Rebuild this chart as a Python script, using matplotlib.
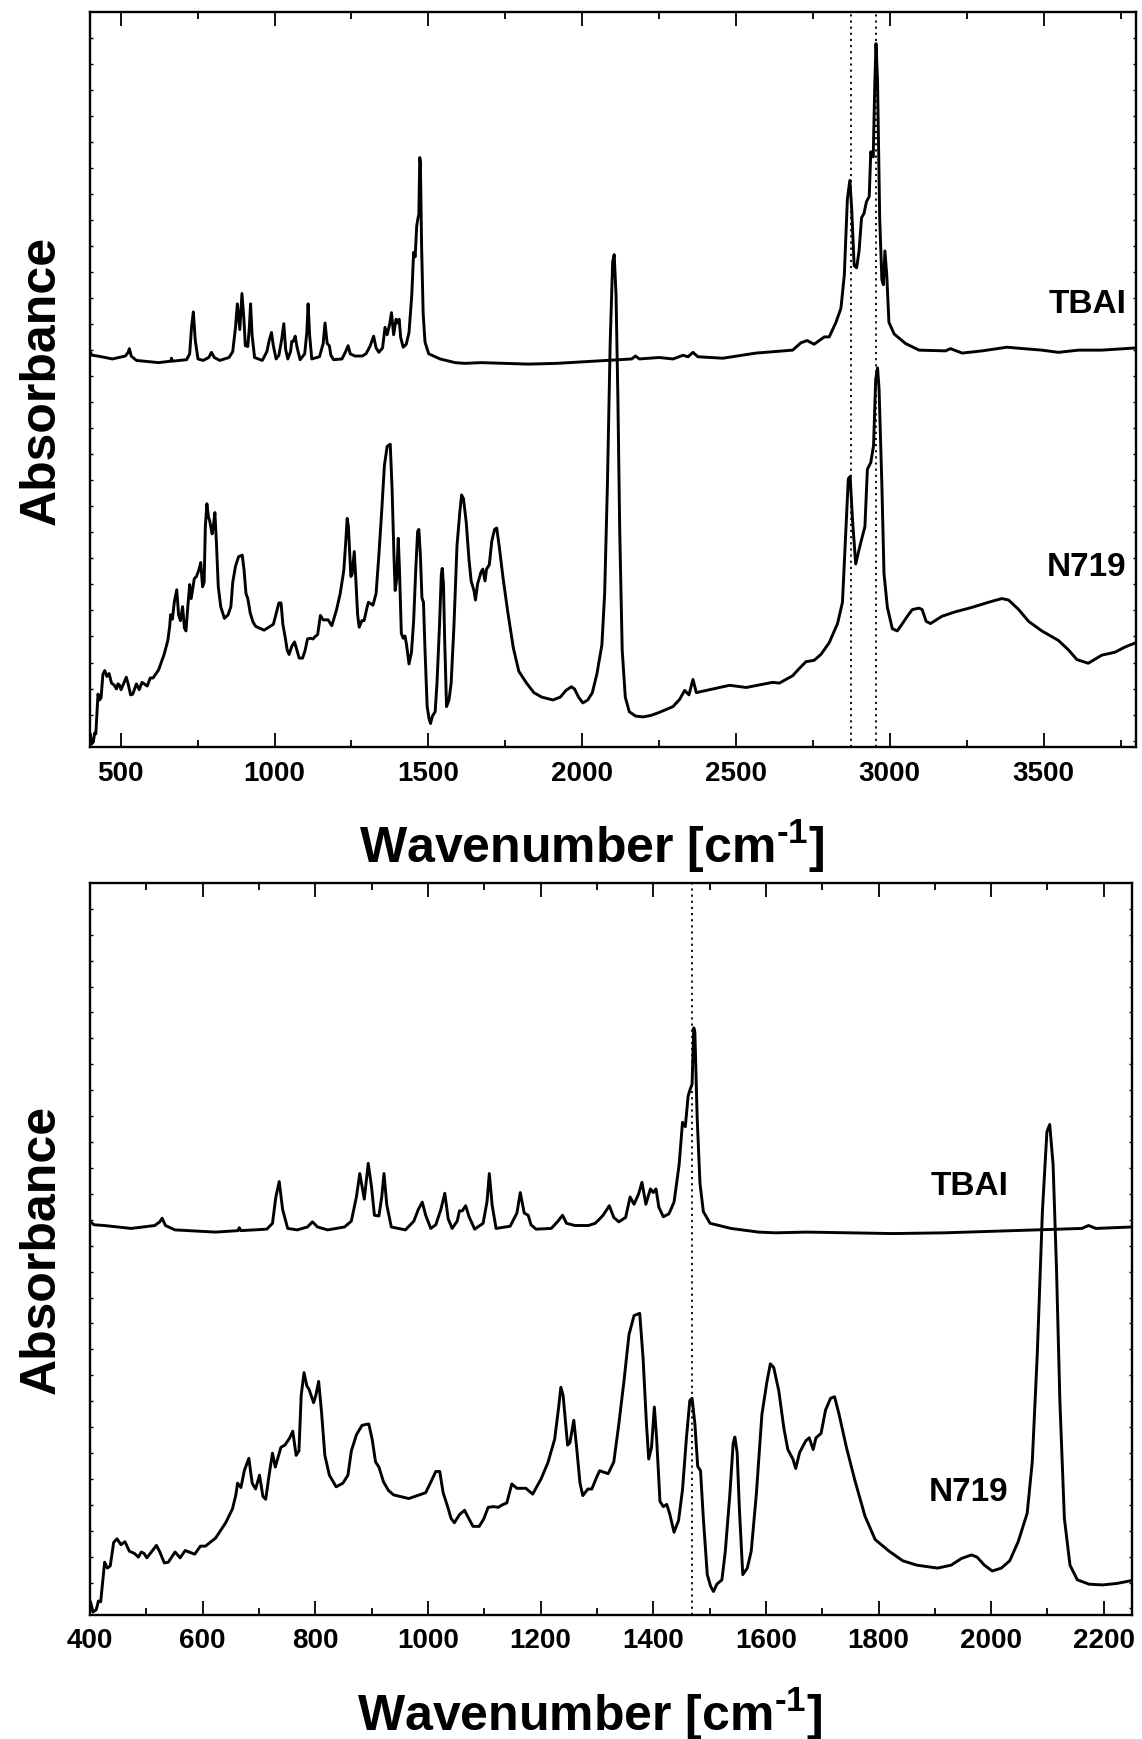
import matplotlib.pyplot as plt
import numpy as np

plt.rcParams['font.family'] = 'Liberation Sans'
plt.rcParams['font.weight'] = 'bold'
plt.rcParams['mathtext.fontset'] = 'custom'
plt.rcParams['mathtext.rm'] = 'Liberation Sans:bold'
plt.rcParams['mathtext.bf'] = 'Liberation Sans:bold'
plt.rcParams['mathtext.it'] = 'Liberation Sans:bold'

# TBAI spectrum (already stacked above N719)
tbai_wn = [398, 407, 425, 473, 515, 524, 528, 534, 551, 623, 663, 665, 668, 714, 724, 730, 736, 742,
           751, 768, 786, 795, 804, 822, 852, 864, 873, 879, 887, 894, 900, 905, 913, 918, 922, 927,
           935, 960, 975, 983, 990, 996, 1005, 1014, 1023, 1030, 1036, 1043, 1052, 1056, 1061, 1067,
           1073, 1083, 1098, 1105, 1109, 1114, 1121, 1146, 1158, 1164, 1171, 1178, 1183, 1192, 1219,
           1231, 1239, 1246, 1261, 1285, 1297, 1305, 1311, 1322, 1330, 1339, 1351, 1359, 1366, 1374,
           1380, 1387, 1395, 1400, 1405, 1410, 1418, 1428, 1437, 1446, 1452, 1457, 1462, 1466, 1469,
           1472, 1474, 1478, 1483, 1489, 1501, 1538, 1587, 1617, 1672, 1825, 1917, 2039, 2161, 2173,
           2186, 2250, 2295, 2328, 2344, 2360, 2376, 2457, 2565, 2684, 2711, 2731, 2754, 2787, 2803,
           2825, 2841, 2852, 2862, 2870, 2876, 2884, 2892, 2900, 2908, 2916, 2924, 2933, 2938, 2946,
           2951, 2955, 2960, 2967, 2974, 2979, 2984, 2990, 2997, 3014, 3051, 3095, 3181, 3197, 3235,
           3300, 3381, 3435, 3494, 3548, 3613, 3688, 3800]
tbai_abs = [.539, .533, .532, .528, .532, .537, .542, .532, .526, .523, .525, .529, .525, .527, .535,
            .571, .592, .554, .528, .526, .530, .537, .530, .526, .530, .538, .571, .603, .568, .617,
            .584, .546, .545, .571, .603, .560, .530, .526, .538, .554, .564, .546, .528, .533, .554,
            .576, .541, .528, .538, .552, .552, .559, .544, .527, .535, .565, .603, .560, .528, .531,
            .549, .577, .549, .546, .533, .527, .528, .538, .546, .535, .532, .532, .535, .541, .546,
            .559, .543, .537, .543, .571, .561, .575, .591, .561, .582, .577, .582, .557, .544, .548,
            .564, .615, .673, .667, .709, .719, .725, .802, .796, .680, .590, .551, .535, .528, .523,
            .522, .523, .521, .522, .525, .528, .532, .528, .530, .528, .533, .531, .537, .531, .529,
            .536, .540, .550, .553, .548, .558, .558, .578, .597, .642, .746, .771, .732, .655, .652,
            .675, .720, .726, .742, .749, .810, .803, .901, .957, .907, .720, .636, .629, .675, .642,
            .578, .562, .549, .540, .539, .542, .536, .539, .544, .542, .540, .537, .540, .540, .543]

# N719 spectrum
n719_wn = [398, 401, 405, 411, 415, 419, 426, 431, 436, 442, 448, 455, 462, 470, 479, 486, 491, 496,
           501, 509, 518, 524, 532, 539, 551, 560, 569, 586, 596, 605, 623, 641, 653, 659, 662, 668,
           674, 682, 688, 694, 701, 707, 712, 718, 724, 729, 739, 746, 754, 760, 766, 771, 775, 780,
           785, 789, 797, 801, 806, 811, 817, 825, 837, 849, 858, 864, 873, 883, 895, 901, 907, 913,
           921, 930, 939, 966, 981, 996, 1003, 1014, 1021, 1027, 1035, 1041, 1047, 1056, 1065, 1071,
           1080, 1091, 1099, 1107, 1116, 1125, 1131, 1140, 1149, 1158, 1174, 1186, 1201, 1213, 1225,
           1232, 1236, 1240, 1248, 1252, 1259, 1264, 1270, 1275, 1284, 1291, 1300, 1305, 1320, 1330,
           1339, 1348, 1357, 1366, 1376, 1382, 1388, 1392, 1397, 1402, 1406, 1412, 1418, 1424, 1429,
           1437, 1445, 1452, 1459, 1465, 1469, 1474, 1479, 1484, 1489, 1496, 1502, 1507, 1513, 1522,
           1528, 1536, 1542, 1545, 1549, 1553, 1559, 1567, 1574, 1583, 1593, 1602, 1608, 1614, 1623,
           1632, 1639, 1648, 1653, 1660, 1671, 1677, 1684, 1689, 1698, 1706, 1715, 1722, 1730, 1743,
           1758, 1776, 1794, 1819, 1843, 1868, 1905, 1929, 1947, 1965, 1975, 1988, 2002, 2018, 2033,
           2048, 2064, 2073, 2082, 2091, 2099, 2104, 2110, 2116, 2122, 2130, 2140, 2153, 2174, 2198,
           2223, 2250, 2295, 2317, 2333, 2347, 2360, 2371, 2403, 2479, 2533, 2619, 2641, 2684, 2706,
           2727, 2754, 2776, 2803, 2830, 2846, 2857, 2865, 2871, 2879, 2889, 2903, 2919, 2927, 2938,
           2947, 2954, 2960, 2965, 2974, 2981, 2992, 3008, 3024, 3041, 3057, 3073, 3095, 3105, 3118,
           3132, 3170, 3213, 3267, 3321, 3364, 3386, 3419, 3451, 3494, 3548, 3581, 3608, 3645, 3689,
           3732, 3764, 3800]
n719_abs = [.004, .018, .004, .007, .019, .018, .072, .064, .067, .099, .104, .096, .100, .087, .084,
            .079, .086, .084, .078, .086, .095, .086, .071, .072, .086, .078, .088, .083, .094, .094,
            .105, .126, .145, .164, .180, .174, .197, .214, .180, .172, .191, .162, .158, .191, .221,
            .202, .229, .232, .241, .251, .218, .224, .300, .331, .313, .308, .290, .300, .319, .278,
            .218, .191, .175, .180, .191, .224, .246, .259, .261, .240, .209, .202, .182, .170, .164,
            .159, .163, .167, .178, .196, .196, .167, .148, .132, .126, .137, .143, .134, .121, .121,
            .131, .147, .148, .147, .150, .153, .179, .173, .173, .165, .186, .208, .240, .283, .311,
            .300, .232, .235, .266, .229, .180, .163, .172, .172, .189, .197, .193, .209, .261, .319,
            .383, .409, .412, .351, .261, .213, .229, .284, .242, .155, .148, .151, .139, .113, .129,
            .171, .242, .293, .296, .261, .203, .197, .132, .055, .039, .032, .042, .048, .087, .164,
            .235, .243, .222, .145, .055, .064, .087, .164, .274, .319, .343, .338, .306, .255, .226,
            .213, .200, .222, .238, .242, .226, .242, .248, .280, .296, .298, .274, .229, .184, .135,
            .103, .087, .074, .068, .064, .068, .077, .082, .079, .068, .060, .064, .074, .100, .139,
            .209, .358, .551, .660, .670, .615, .474, .293, .132, .068, .048, .042, .041, .043, .047,
            .055, .065, .077, .071, .092, .074, .077, .084, .081, .088, .087, .097, .107, .116, .118,
            .126, .142, .168, .197, .294, .365, .368, .307, .249, .274, .300, .378, .387, .410, .500,
            .516, .487, .358, .236, .190, .161, .158, .168, .178, .187, .189, .187, .171, .168, .178,
            .184, .190, .197, .202, .200, .187, .171, .158, .145, .132, .119, .114, .125, .129, .136,
            .142]

fig = plt.figure(figsize=(11.42, 17.40), dpi=100)
ax1 = fig.add_axes([0.0788, 0.5701, 0.9159, 0.4224])
ax2 = fig.add_axes([0.0788, 0.0713, 0.9124, 0.4207])

panels = [
    (ax1, (400, 3800), np.arange(500, 3501, 500), np.arange(750, 3800, 500), [2873, 2955],
     (0.991, 0.603), (0.991, 0.245)),
    (ax2, (400, 2250), np.arange(400, 2201, 200), np.arange(500, 2250, 200), [1469],
     (0.882, 0.586), (0.881, 0.168)),
]

for ax, xlim, major, minor, vlines, tb_pos, n_pos in panels:
    ax.plot(tbai_wn, tbai_abs, color='black', lw=2.1)
    ax.plot(n719_wn, n719_abs, color='black', lw=2.1)
    for v in vlines:
        ax.axvline(v, color='black', lw=1.3, ls=(0, (1.2, 2.2)))
    ax.set_xlim(*xlim)
    ax.set_ylim(0, 1)
    ax.set_xticks(major)
    ax.set_xticks(minor, minor=True)
    ax.set_yticks(1 - np.arange(1, 29) * 0.0354)
    ax.tick_params(axis='x', which='both', direction='in', top=True, bottom=True,
                   width=1.3, labelsize=20, pad=9)
    ax.tick_params(axis='x', which='major', length=10)
    ax.tick_params(axis='x', which='minor', length=5)
    ax.tick_params(axis='y', direction='in', left=True, right=True, length=2.5,
                   width=1.0, labelleft=False)
    for s in ax.spines.values():
        s.set_linewidth(1.7)
    ax.set_xlabel(r'Wavenumber [cm$^{\text{-1}}$]', fontsize=36, fontweight='bold')
    ax.xaxis.set_label_coords(0.48, -0.095)
    ax.set_ylabel('Absorbance', fontsize=36, fontweight='bold', labelpad=18)
    ax.text(tb_pos[0], tb_pos[1], 'TBAI', transform=ax.transAxes, ha='right', va='center',
            fontsize=24, fontweight='bold')
    ax.text(n_pos[0], n_pos[1], 'N719', transform=ax.transAxes, ha='right', va='center',
            fontsize=24, fontweight='bold')

fig.savefig('out.png', dpi=100)
